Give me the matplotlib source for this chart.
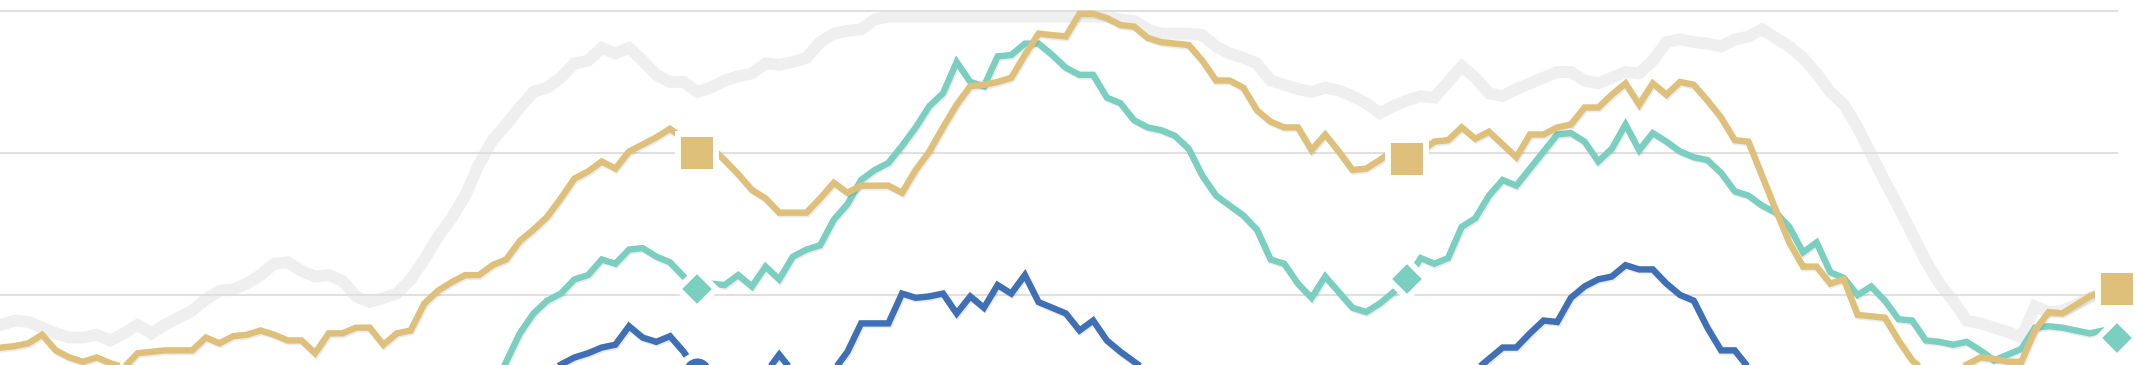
import matplotlib
matplotlib.use("Agg")
import matplotlib.pyplot as plt
import matplotlib.patheffects as pe
import numpy as np

# weekly values, three seasons (index 0..156); marks at each season end
tan = [61, 63, 64, 66, 72, 61, 56, 53, 56, 52, 49, 59, 60, 61, 61, 61, 70, 66, 71, 72,
       75, 72, 68, 68, 59, 73, 73, 77, 77, 65, 73, 75, 94, 103, 109, 114, 114, 121, 125, 138,
       146, 155, 168, 182, 187, 194, 189, 201, 206, 211, 217, 210, 200, 204, 195, 185, 174, 168, 158, 158,
       158, 168, 179, 172, 177, 177, 177, 172, 188, 201, 218, 234, 247, 248, 250, 253, 269, 284, 283, 282,
       298, 298, 295, 290, 289, 281, 278, 277, 276, 265, 251, 251, 246, 230, 222, 218, 218, 202, 213, 201,
       188, 189, 195, 202, 196, 201, 208, 209, 218, 210, 215, 206, 197, 213, 213, 218, 220, 232, 232, 241,
       249, 234, 249, 241, 250, 248, 237, 225, 209, 208, 184, 160, 137, 120, 120, 108, 111, 86, 85, 84,
       68, 54, 46, 42, 46, 51, 56, 55, 53, 53, 75, 88, 87, 93, 99, 103, 104]

teal = [38, 37, 36, 38, 35, 34, 36, 33, 32, 34, 33, 35, 36, 34, 37, 36, 38, 37, 39, 38,
        40, 39, 41, 40, 38, 41, 42, 41, 40, 42, 41, 43, 44, 43, 44, 42, 43, 33, 53, 73,
        87, 96, 101, 111, 114, 125, 122, 132, 133, 127, 123, 113, 104, 108, 107, 114, 106, 120, 111, 127,
        132, 135, 153, 164, 181, 188, 193, 205, 218, 233, 242, 264, 250, 247, 268, 269, 277, 277, 269, 260,
        255, 255, 239, 235, 223, 218, 216, 212, 203, 184, 170, 163, 156, 146, 125, 122, 108, 98, 113, 102,
        91, 88, 94, 102, 111, 126, 122, 126, 148, 154, 170, 181, 177, 189, 201, 213, 214, 208, 194, 203,
        220, 202, 214, 208, 201, 197, 195, 186, 173, 170, 163, 158, 148, 130, 137, 116, 112, 100, 106, 96,
        83, 82, 68, 67, 65, 67, 61, 54, 58, 62, 77, 78, 77, 75, 73, 75, 70]

blue = [30, 31, 29, 30, 28, 29, 30, 31, 29, 28, 30, 29, 31, 30, 32, 31, 30, 32, 33, 31,
        32, 34, 33, 32, 34, 33, 35, 34, 33, 35, 34, 36, 35, 34, 36, 35, 37, 36, 35, 37,
        37, 45, 51, 56, 59, 63, 65, 78, 70, 67, 71, 60, 46, 39, 35, 37, 40, 45, 58, 46,
        42, 43, 47, 60, 80, 80, 80, 101, 98, 99, 101, 87, 99, 91, 107, 101, 114, 95, 91, 87,
        75, 82, 68, 60, 53, 46, 40, 36, 33, 30, 28, 26, 25, 26, 24, 25, 23, 24, 26, 25,
        27, 26, 28, 29, 30, 32, 35, 37, 40, 47, 55, 63, 63, 73, 82, 81, 98, 106, 111, 113,
        121, 118, 118, 108, 100, 96, 77, 61, 61, 49, 40, 35, 32, 30, 28, 27, 26, 25, 26, 24,
        25, 23, 24, 22, 23, 24, 22, 23, 25, 24, 26, 25, 27, 26, 28, 27, 29]

gray = [77, 79, 82, 81, 77, 73, 70, 70, 72, 68, 73, 79, 73, 79, 84, 89, 97, 103, 104, 108,
        114, 122, 123, 117, 113, 114, 110, 99, 95, 98, 101, 111, 125, 141, 154, 170, 192, 209, 220, 232,
        243, 246, 253, 263, 265, 274, 270, 274, 265, 255, 250, 250, 243, 246, 251, 254, 256, 263, 262, 264,
        267, 278, 284, 286, 287, 294, 296, 296, 296, 296, 296, 296, 296, 296, 296, 296, 296, 296, 296, 296,
        296, 296, 296, 294, 293, 287, 284, 284, 284, 283, 275, 270, 267, 263, 251, 248, 245, 243, 246, 244,
        240, 235, 228, 233, 237, 240, 239, 250, 261, 253, 242, 240, 245, 249, 253, 257, 257, 251, 249, 253,
        257, 256, 265, 278, 280, 278, 277, 275, 280, 282, 287, 281, 275, 267, 256, 243, 234, 218, 199, 180,
        162, 143, 124, 108, 96, 82, 80, 77, 74, 70, 92, 88, 89, 93, 98, 101, 104]

season_ends = [52, 104, 156]
grid_vals = [100, 200, 300]

TAN = "#dfc07b"
TEAL = "#7bcfc0"
BLUE = "#3f6fb5"
GRAY = "#efefef"

x = np.arange(len(tan))
ends = np.array(season_ends)

fig = plt.figure(figsize=(21.35, 3.65), dpi=100)
ax = fig.add_axes([0, 0, 2118 / 2135, 1])

shadow = [pe.SimpleLineShadow(offset=(0.8, -1.2), shadow_color="k", alpha=0.08), pe.Normal()]

ax.plot(x, gray, color=GRAY, lw=8.5, zorder=1, solid_joinstyle="miter")

series = [(blue, BLUE, "o", 24.5, 2.2),
          (teal, TEAL, "D", 19, 2.4),
          (tan, TAN, "s", 27.4, 2.6)]
for vals, col, mk, ms, z in series:
    vals = np.array(vals)
    ax.plot(x, vals, color=col, lw=4.6, zorder=z, solid_joinstyle="miter",
            solid_capstyle="butt", path_effects=shadow)

for vals, col, mk, ms, z in series:
    vals = np.array(vals)
    ax.plot(ends, vals[ends], linestyle="none", marker=mk, ms=ms, mfc=col,
            mec="white", mew=4.3, zorder=5, clip_on=False)

ax.set_xlim(0.916, 156.08)
ax.set_ylim(50.7, 307.7)
ax.set_yticks(grid_vals)
ax.set_xticks([])
ax.yaxis.grid(True, color="#e0e0e0", lw=1.5)
ax.set_axisbelow("line")
ax.tick_params(length=0, labelleft=False, labelbottom=False)
for s in ax.spines.values():
    s.set_visible(False)

fig.savefig("out.png", dpi=100, facecolor="white")
